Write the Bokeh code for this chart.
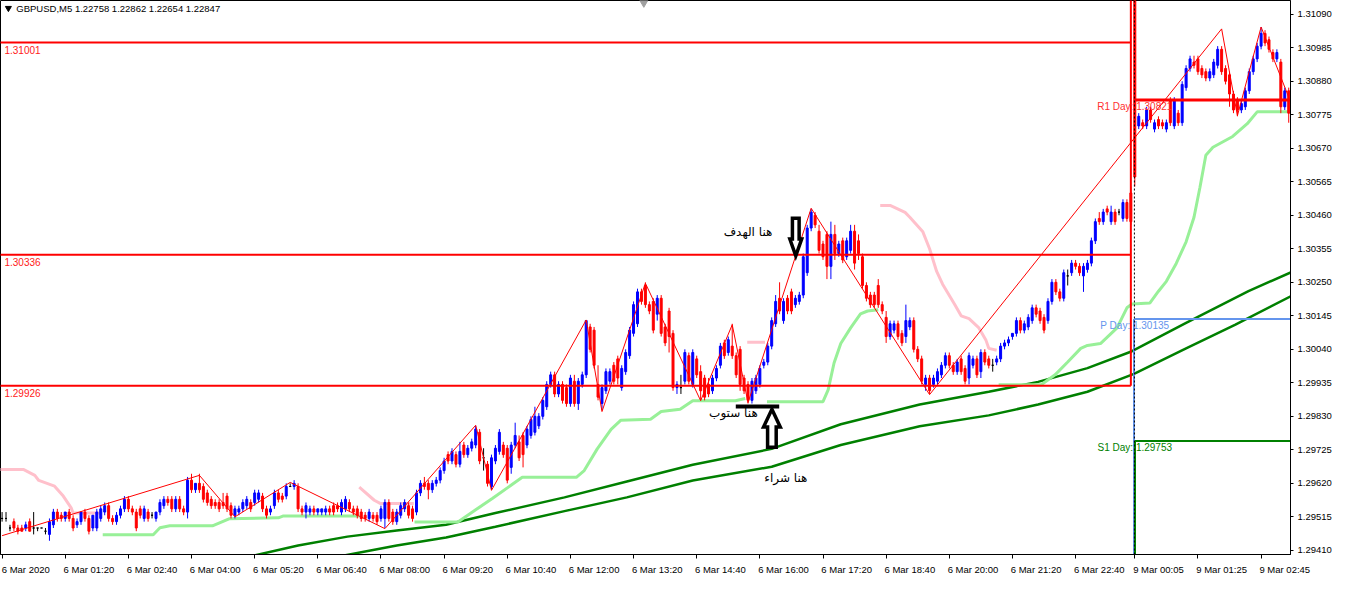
import numpy as np
from bokeh.plotting import figure
from bokeh.models import Range1d, FixedTicker, LinearAxis, PrintfTickFormatter, Span
from bokeh.core.properties import value
from bokeh.embed import file_html
from bokeh.resources import INLINE

# ---------------- data ----------------
chart_title = "GBPUSD,M5  1.22758 1.22862 1.22654 1.22847"

opens = [
 1.2951,1.2951,1.2948,1.2950,1.2948,1.2948,1.2948,1.2950,1.2948,1.2948,
 1.2948,1.2947,1.2946,1.2949,1.2953,1.2952,1.2951,1.2953,1.2951,1.2949,
 1.2950,1.2953,1.2951,1.2948,1.2948,1.2951,1.2953,1.2955,1.2951,1.2950,
 1.2952,1.2954,1.2957,1.2954,1.2953,1.2954,1.2951,1.2953,1.2952,1.2951,
 1.2953,1.2955,1.2957,1.2957,1.2954,1.2957,1.2954,1.2953,1.2963,1.2960,
 1.2962,1.2961,1.2959,1.2957,1.2956,1.2956,1.2956,1.2958,1.2955,1.2952,
 1.2953,1.2954,1.2955,1.2956,1.2956,1.2957,1.2958,1.2954,1.2953,1.2955,
 1.2959,1.2958,1.2958,1.2961,1.2961,1.2961,1.2954,1.2953,1.2953,1.2954,
 1.2953,1.2953,1.2953,1.2954,1.2955,1.2955,1.2953,1.2954,1.2956,1.2954,
 1.2954,1.2953,1.2952,1.2951,1.2952,1.2952,1.2951,1.2951,1.2956,1.2953,
 1.2950,1.2952,1.2954,1.2955,1.2954,1.2953,1.2959,1.2962,1.2962,1.2960,
 1.2962,1.2963,1.2966,1.2971,1.2969,1.2971,1.2968,1.2974,1.2971,1.2973,
 1.2974,1.2978,1.2970,1.2968,1.2961,1.2969,1.2972,1.2974,1.2973,1.2967,
 1.2974,1.2975,1.2977,1.2974,1.2977,1.2978,1.2980,1.2983,1.2986,1.2993,
 1.2996,1.2990,1.2993,1.2992,1.2987,1.2994,1.2987,1.2993,1.2996,1.3011,
 1.3010,1.2993,1.2987,1.2991,1.2994,1.2999,1.3001,1.2992,1.2997,1.3002,
 1.3009,1.3012,1.3022,1.3024,1.3018,1.3019,1.3015,1.3020,1.3011,1.3016,
 1.3009,1.2992,1.2992,1.2994,1.3002,1.2993,1.3001,1.2997,1.2995,1.2993,
 1.2991,1.2995,1.2999,1.3006,1.3003,1.3005,1.3002,1.3004,1.2995,1.2993,
 1.2988,1.2991,1.2993,1.2999,1.3000,1.3005,1.3012,1.3020,1.3013,1.3020,
 1.3022,1.3018,1.3019,1.3021,1.3028,1.3042,1.3046,1.3041,1.3037,1.3040,
 1.3030,1.3040,1.3034,1.3038,1.3033,1.3035,1.3041,1.3038,1.3033,1.3024,
 1.3021,1.3021,1.3024,1.3018,1.3014,1.3008,1.3010,1.3012,1.3009,1.3008,
 1.3011,1.3013,1.3004,1.3001,1.2993,1.2995,1.2993,1.2994,1.2996,1.2999,
 1.3002,1.2999,1.2997,1.3001,1.2998,1.2995,1.2999,1.3001,1.2997,1.3003,
 1.3001,1.2999,1.3000,1.3001,1.3005,1.3006,1.3008,1.3009,1.3013,1.3010,
 1.3011,1.3013,1.3017,1.3016,1.3014,1.3013,1.3019,1.3025,1.3022,1.3020,
 1.3027,1.3028,1.3031,1.3030,1.3027,1.3029,1.3031,1.3038,1.3045,1.3044,
 1.3048,1.3044,1.3047,1.3047,1.3045,1.3050,1.3053,1.3120,1.3074,1.3075,
 1.3074,1.3079,1.3073,1.3076,1.3075,1.3073,1.3082,1.3074,1.3078,1.3075,
 1.3086,1.3092,1.3094,1.3095,1.3092,1.3091,1.3089,1.3090,1.3093,1.3098,
 1.3092,1.3090,1.3084,1.3082,1.3079,1.3080,1.3085,1.3091,1.3095,1.3099,
 1.3103,1.3101,1.3097,1.3095,1.3094,1.3080,1.3085]

highs = [
 1.2953,1.2953,1.2949,1.2951,1.2949,1.2949,1.2950,1.2951,1.2953,1.2948,
 1.2948,1.2948,1.2951,1.2954,1.2954,1.2953,1.2953,1.2954,1.2952,1.2951,
 1.2953,1.2954,1.2952,1.2952,1.2954,1.2955,1.2956,1.2956,1.2952,1.2953,
 1.2955,1.2958,1.2958,1.2955,1.2954,1.2955,1.2955,1.2954,1.2953,1.2953,
 1.2957,1.2958,1.2958,1.2958,1.2958,1.2958,1.2955,1.2964,1.2965,1.2962,
 1.2965,1.2962,1.2960,1.2958,1.2957,1.2957,1.2959,1.2959,1.2956,1.2955,
 1.2955,1.2957,1.2958,1.2957,1.2960,1.2960,1.2959,1.2955,1.2955,1.2960,
 1.2960,1.2959,1.2962,1.2962,1.2963,1.2962,1.2955,1.2956,1.2955,1.2955,
 1.2954,1.2954,1.2955,1.2955,1.2956,1.2956,1.2957,1.2958,1.2957,1.2955,
 1.2955,1.2954,1.2953,1.2954,1.2953,1.2953,1.2955,1.2957,1.2957,1.2954,
 1.2954,1.2956,1.2957,1.2956,1.2955,1.2960,1.2963,1.2964,1.2963,1.2963,
 1.2964,1.2967,1.2970,1.2972,1.2973,1.2972,1.2975,1.2975,1.2974,1.2976,
 1.2980,1.2979,1.2973,1.2969,1.2971,1.2974,1.2979,1.2975,1.2974,1.2975,
 1.2981,1.2977,1.2978,1.2980,1.2983,1.2986,1.2984,1.2989,1.2994,1.2997,
 1.2997,1.2994,1.2994,1.2993,1.2996,1.2996,1.2995,1.2997,1.3013,1.3012,
 1.3011,1.2999,1.2993,1.2998,1.2998,1.3000,1.3002,1.2999,1.3004,1.3011,
 1.3019,1.3023,1.3023,1.3025,1.3019,1.3020,1.3021,1.3021,1.3012,1.3017,
 1.3010,1.2994,1.2996,1.3004,1.3003,1.3004,1.3002,1.2999,1.2996,1.2995,
 1.2996,1.2999,1.3006,1.3007,1.3008,1.3012,1.3003,1.3005,1.2996,1.2994,
 1.2995,1.2996,1.2999,1.3001,1.3006,1.3014,1.3021,1.3025,1.3020,1.3021,
 1.3023,1.3021,1.3022,1.3034,1.3043,1.3048,1.3047,1.3043,1.3038,1.3041,
 1.3044,1.3043,1.3038,1.3039,1.3039,1.3043,1.3043,1.3040,1.3034,1.3025,
 1.3022,1.3022,1.3026,1.3019,1.3016,1.3013,1.3013,1.3013,1.3010,1.3018,
 1.3014,1.3014,1.3005,1.3002,1.2996,1.2996,1.2996,1.2998,1.3000,1.3003,
 1.3003,1.3000,1.3001,1.3002,1.2999,1.3003,1.3002,1.3002,1.3004,1.3004,
 1.3002,1.3001,1.3002,1.3006,1.3007,1.3008,1.3009,1.3014,1.3014,1.3013,
 1.3015,1.3018,1.3018,1.3017,1.3015,1.3020,1.3026,1.3026,1.3023,1.3029,
 1.3029,1.3032,1.3032,1.3031,1.3031,1.3032,1.3039,1.3045,1.3047,1.3048,
 1.3049,1.3049,1.3048,1.3048,1.3051,1.3051,1.3055,1.3125,1.3078,1.3076,
 1.3080,1.3080,1.3076,1.3077,1.3076,1.3076,1.3083,1.3083,1.3079,1.3088,
 1.3093,1.3096,1.3096,1.3096,1.3093,1.3092,1.3092,1.3095,1.3099,1.3099,
 1.3093,1.3091,1.3085,1.3083,1.3082,1.3086,1.3092,1.3096,1.3100,1.3105,
 1.3104,1.3102,1.3098,1.3098,1.3095,1.3086,1.3086]

lows = [
 1.2950,1.2950,1.2947,1.2947,1.2946,1.2947,1.2947,1.2947,1.2946,1.2947,
 1.2948,1.2946,1.2944,1.2948,1.2950,1.2950,1.2950,1.2950,1.2947,1.2948,
 1.2949,1.2950,1.2946,1.2947,1.2947,1.2950,1.2952,1.2950,1.2949,1.2949,
 1.2951,1.2953,1.2953,1.2952,1.2947,1.2951,1.2950,1.2950,1.2951,1.2950,
 1.2952,1.2954,1.2955,1.2953,1.2953,1.2953,1.2952,1.2951,1.2959,1.2959,
 1.2959,1.2956,1.2955,1.2954,1.2954,1.2953,1.2954,1.2953,1.2951,1.2951,
 1.2952,1.2953,1.2954,1.2953,1.2955,1.2956,1.2953,1.2951,1.2952,1.2954,
 1.2956,1.2956,1.2957,1.2961,1.2960,1.2953,1.2952,1.2951,1.2952,1.2952,
 1.2952,1.2952,1.2952,1.2952,1.2952,1.2953,1.2952,1.2953,1.2953,1.2952,
 1.2951,1.2950,1.2950,1.2950,1.2950,1.2949,1.2950,1.2948,1.2950,1.2949,
 1.2949,1.2951,1.2953,1.2951,1.2950,1.2952,1.2958,1.2960,1.2957,1.2959,
 1.2961,1.2962,1.2965,1.2968,1.2968,1.2967,1.2967,1.2970,1.2970,1.2972,
 1.2973,1.2968,1.2966,1.2961,1.2960,1.2968,1.2971,1.2970,1.2962,1.2965,
 1.2973,1.2969,1.2967,1.2973,1.2976,1.2977,1.2979,1.2982,1.2985,1.2992,
 1.2989,1.2989,1.2987,1.2986,1.2986,1.2986,1.2985,1.2992,1.2995,1.3003,
 1.2998,1.2988,1.2985,1.2990,1.2993,1.2993,1.2993,1.2991,1.2996,1.3001,
 1.3008,1.3011,1.3018,1.3017,1.3015,1.3009,1.3013,1.3008,1.3005,1.3003,
 1.2991,1.2990,1.2990,1.2993,1.2993,1.2992,1.2995,1.2988,1.2988,1.2989,
 1.2990,1.2994,1.2998,1.3001,1.3002,1.3001,1.2995,1.2991,1.2990,1.2987,
 1.2987,1.2990,1.2992,1.2998,1.2999,1.3004,1.3011,1.3015,1.3012,1.3015,
 1.3015,1.3017,1.3018,1.3020,1.3027,1.3041,1.3042,1.3034,1.3032,1.3026,
 1.3026,1.3032,1.3033,1.3031,1.3032,1.3034,1.3029,1.3032,1.3023,1.3019,
 1.3017,1.3017,1.3017,1.3015,1.3006,1.3007,1.3009,1.3007,1.3005,1.3006,
 1.3010,1.3003,1.3000,1.2993,1.2991,1.2990,1.2992,1.2993,1.2995,1.2998,
 1.2998,1.2996,1.2996,1.2996,1.2993,1.2993,1.2998,1.2995,1.2995,1.2999,
 1.2998,1.2997,1.2999,1.3000,1.3004,1.3005,1.3007,1.3008,1.3009,1.3009,
 1.3010,1.3012,1.3014,1.3012,1.3009,1.3012,1.3018,1.3021,1.3019,1.3019,
 1.3024,1.3027,1.3029,1.3027,1.3022,1.3028,1.3030,1.3037,1.3043,1.3043,
 1.3046,1.3043,1.3043,1.3046,1.3044,1.3044,1.3043,1.3055,1.3073,1.3073,
 1.3073,1.3075,1.3072,1.3073,1.3073,1.3072,1.3074,1.3073,1.3074,1.3074,
 1.3085,1.3091,1.3092,1.3090,1.3089,1.3088,1.3088,1.3089,1.3092,1.3090,
 1.3087,1.3080,1.3078,1.3077,1.3078,1.3079,1.3084,1.3090,1.3094,1.3098,
 1.3099,1.3097,1.3094,1.3094,1.3078,1.3079,1.3075]

closes = [
 1.2951,1.2951,1.2948,1.2948,1.2947,1.2947,1.2949,1.2947,1.2948,1.2948,
 1.2948,1.2947,1.2950,1.2953,1.2951,1.2951,1.2953,1.2951,1.2948,1.2950,
 1.2953,1.2951,1.2947,1.2952,1.2953,1.2954,1.2955,1.2951,1.2950,1.2952,
 1.2954,1.2957,1.2954,1.2953,1.2948,1.2952,1.2954,1.2951,1.2952,1.2953,
 1.2956,1.2957,1.2956,1.2954,1.2957,1.2954,1.2953,1.2963,1.2960,1.2962,
 1.2960,1.2957,1.2956,1.2955,1.2955,1.2954,1.2955,1.2954,1.2952,1.2954,
 1.2954,1.2956,1.2957,1.2954,1.2959,1.2959,1.2954,1.2952,1.2954,1.2959,
 1.2957,1.2957,1.2961,1.2961,1.2962,1.2954,1.2953,1.2955,1.2954,1.2953,
 1.2954,1.2954,1.2954,1.2953,1.2953,1.2954,1.2956,1.2957,1.2954,1.2953,
 1.2952,1.2951,1.2951,1.2953,1.2951,1.2950,1.2954,1.2956,1.2951,1.2950,
 1.2953,1.2955,1.2956,1.2952,1.2951,1.2959,1.2962,1.2961,1.2960,1.2962,
 1.2963,1.2966,1.2969,1.2969,1.2972,1.2968,1.2972,1.2971,1.2973,1.2975,
 1.2979,1.2969,1.2970,1.2962,1.2970,1.2973,1.2978,1.2971,1.2963,1.2974,
 1.2977,1.2970,1.2971,1.2979,1.2982,1.2983,1.2983,1.2988,1.2993,1.2996,
 1.2990,1.2993,1.2988,1.2987,1.2995,1.2987,1.2994,1.2996,1.3013,1.3004,
 1.2999,1.2989,1.2992,1.2997,1.2997,1.2994,1.2995,1.2998,1.3003,1.3010,
 1.3018,1.3022,1.3019,1.3018,1.3016,1.3010,1.3020,1.3009,1.3006,1.3008,
 1.2992,1.2993,1.2992,1.3003,1.2994,1.3003,1.2996,1.2991,1.2989,1.2990,
 1.2995,1.2998,1.3005,1.3002,1.3007,1.3002,1.2996,1.2993,1.2991,1.2988,
 1.2994,1.2995,1.2998,1.3000,1.3005,1.3013,1.3019,1.3016,1.3019,1.3016,
 1.3016,1.3020,1.3021,1.3033,1.3042,1.3047,1.3043,1.3035,1.3033,1.3030,
 1.3040,1.3034,1.3037,1.3032,1.3038,1.3041,1.3031,1.3034,1.3024,1.3020,
 1.3018,1.3018,1.3018,1.3016,1.3008,1.3012,1.3012,1.3008,1.3006,1.3013,
 1.3013,1.3004,1.3001,1.2994,1.2995,1.2991,1.2995,1.2997,1.2999,1.3002,
 1.2999,1.2997,1.3000,1.2997,1.2994,1.3002,1.3001,1.2996,1.3003,1.3000,
 1.2999,1.2999,1.3001,1.3005,1.3006,1.3007,1.3009,1.3013,1.3010,1.3012,
 1.3014,1.3017,1.3015,1.3013,1.3010,1.3019,1.3025,1.3022,1.3020,1.3028,
 1.3027,1.3031,1.3030,1.3028,1.3030,1.3031,1.3038,1.3044,1.3044,1.3047,
 1.3047,1.3047,1.3044,1.3047,1.3050,1.3045,1.3044,1.3058,1.3077,1.3074,
 1.3079,1.3076,1.3075,1.3074,1.3074,1.3075,1.3075,1.3082,1.3075,1.3087,
 1.3092,1.3095,1.3093,1.3091,1.3090,1.3089,1.3091,1.3094,1.3098,1.3091,
 1.3088,1.3084,1.3079,1.3079,1.3081,1.3085,1.3091,1.3095,1.3099,1.3103,
 1.3100,1.3098,1.3095,1.3097,1.3080,1.3085,1.3078]

# time axis: bar index of each labelled time
tick_bars = [0, 16, 32, 48, 64, 80, 96, 112, 128, 144, 160, 176, 192, 208,
             224, 240, 256, 272, 287, 303, 319]
tick_labels = ["6 Mar 2020", "6 Mar 01:20", "6 Mar 02:40", "6 Mar 04:00",
               "6 Mar 05:20", "6 Mar 06:40", "6 Mar 08:00", "6 Mar 09:20",
               "6 Mar 10:40", "6 Mar 12:00", "6 Mar 13:20", "6 Mar 14:40",
               "6 Mar 16:00", "6 Mar 17:20", "6 Mar 18:40", "6 Mar 20:00",
               "6 Mar 21:20", "6 Mar 22:40", "9 Mar 00:05", "9 Mar 01:25",
               "9 Mar 02:45"]
price_ticks = [1.31090, 1.30985, 1.30880, 1.30775, 1.30670, 1.30565, 1.30460,
               1.30355, 1.30250, 1.30145, 1.30040, 1.29935, 1.29830, 1.29725,
               1.29620, 1.29515, 1.29410]

week_start_bar = 287
levels = [1.31001, 1.30336, 1.29926]
level_texts = ["1.31001", "1.30336", "1.29926"]
pivot_values = [1.30821, 1.30135, 1.29753]
pivot_texts = ["R1 Day: 1.30821", "P Day: 1.30135", "S1 Day: 1.29753"]

ma_fast_x = [62.5, 75, 87.5, 100, 112.5, 125, 142.5, 158.3, 175, 195, 212.5,
             232.5, 250, 262.5, 275, 286.3, 300, 315.8, 326.5]
ma_fast_y = [1.29390, 1.29425, 1.29453, 1.29472, 1.29490, 1.29527, 1.29576,
             1.29626, 1.29678, 1.29728, 1.29805, 1.29867, 1.29907, 1.29938,
             1.29981, 1.30034, 1.30123, 1.30222, 1.30281]
ma_slow_x = [85, 100, 112.5, 125, 142.5, 158.3, 175, 195, 212.5, 232.5, 250,
             262.5, 275, 286.8, 300, 312.5, 326.5]
ma_slow_y = [1.29390, 1.29425, 1.29450, 1.29484, 1.29533, 1.29576, 1.29629,
             1.29672, 1.29740, 1.29799, 1.29833, 1.29867, 1.29907, 1.29963,
             1.30043, 1.30117, 1.30206]

nan = float("nan")
stop_up_x = [25.5, 38.3, 40.0, 42.5, 53.3, 57.5, 70.0, 71.3, 90.5, nan,
             104.5, 115.5, 120.0, 124.3, 131.8, 145.5, 147.5, 150.8, 154.3,
             156.8, 164.3, 167.0, 171.8, 175.0, 185.8, 188.3, nan,
             193.8, 208.0, 209.3, 210.8, 212.5, 215.0, 217.5, 219.3, 222.0, nan,
             252.5, 263.3, 266.8, 270.0, 273.3, 275.0, 278.3, 282.5, 285.0,
             286.3, 290.8, 293.0, 295.0, 297.5, 300.0, 302.0, 303.5, 305.0,
             306.8, 311.8, 315.5, 318.0, 326.5]
stop_up_y = [1.29459, 1.29459, 1.29481, 1.29487, 1.29487, 1.29509, 1.29512,
             1.29518, 1.29518, nan,
             1.29499, 1.29499, 1.29537, 1.29573, 1.29639, 1.29639, 1.29660,
             1.29728, 1.29789, 1.29818, 1.29821, 1.29845, 1.29852, 1.29879,
             1.29879, 1.29886, nan,
             1.29876, 1.29876, 1.29913, 1.29997, 1.30058, 1.30107, 1.30151,
             1.30160, 1.30164, nan,
             1.29929, 1.29929, 1.29960, 1.30000, 1.30043, 1.30052, 1.30058,
             1.30107, 1.30170, 1.30182, 1.30185, 1.30222, 1.30253, 1.30309,
             1.30377, 1.30454, 1.30547, 1.30648, 1.30673, 1.30707, 1.30747,
             1.30784, 1.30784]
stop_dn_x = [-1.0, 5.5, 8.3, 9.3, 13.3, 15.5, 17.5, 18.0, 25.0, nan,
             90.5, 94.3, 95.8, 104.3, nan,
             188.8, 193.3, nan,
             222.5, 225.0, 228.8, 230.0, 233.3, 235.0, 236.8, 238.3, 241.3,
             243.0, 245.0, 247.5, 249.3, 250.0, 252.0]
stop_dn_y = [1.29663, 1.29663, 1.29645, 1.29629, 1.29611, 1.29580, 1.29543,
             1.29527, 1.29527, nan,
             1.29608, 1.29567, 1.29557, 1.29557, nan,
             1.30062, 1.30062, nan,
             1.30491, 1.30491, 1.30469, 1.30454, 1.30408, 1.30355, 1.30284,
             1.30244, 1.30182, 1.30145, 1.30136, 1.30107, 1.30068, 1.30043,
             1.30037]

zigzag_x = [0, 50, 59, 73, 97, 120, 124, 148, 152, 163, 177, 185, 189, 205,
            235, 309, 313, 319, 326]
zigzag_y = [1.29456, 1.29645, 1.29515, 1.29623, 1.29478, 1.29802, 1.29598,
            1.30132, 1.29845, 1.30247, 1.29879, 1.30117, 1.29873, 1.30482,
            1.29898, 1.31044, 1.30772, 1.31050, 1.30830]

note_texts = ["هنا الهدف", "هنا ستوب", "هنا شراء"]
note_x = [189.0, 185.3, 198.6]
note_y = [1.30408, 1.29840, 1.29636]

# ---------------- figure ----------------
Y0, Y1 = 1.29397, 1.31133
X0, X1 = -0.4, 326.45
FONT = "Liberation Sans"

p = figure(width=1334, height=577, output_backend="svg", toolbar_location=None,
           x_range=Range1d(X0, X1), y_range=Range1d(Y0, Y1),
           x_axis_location=None, y_axis_location="right",
           min_border_left=0, min_border_right=0, min_border_top=0,
           min_border_bottom=0, background_fill_color="white",
           border_fill_color="white", outline_line_color="black")
p.grid.visible = False

# y axis (right)
ya = p.yaxis[0]
ya.ticker = FixedTicker(ticks=price_ticks)
ya.formatter = PrintfTickFormatter(format="%.5f")
ya.major_tick_out = 3
ya.major_tick_in = 0
ya.minor_tick_out = 0
ya.minor_tick_in = 0
ya.major_label_standoff = 4
ya.major_label_text_font = FONT
ya.major_label_text_font_size = "9.5px"
ya.major_label_text_color = "black"
ya.axis_line_color = "black"

# x axis: tick marks (minor ticks) at the bar, labels start right of the tick
label_shift = 6
label_pos = [b + label_shift for b in tick_bars]
xl = LinearAxis(ticker=FixedTicker(ticks=label_pos, minor_ticks=tick_bars),
                major_label_overrides={pos: t for pos, t in zip(label_pos, tick_labels)},
                major_tick_out=0, major_tick_in=0,
                minor_tick_out=4, minor_tick_in=0, minor_tick_line_color="black",
                axis_line_color="black", major_label_standoff=5,
                major_label_text_font=FONT, major_label_text_font_size="9.5px",
                major_label_text_color="black")
p.add_layout(xl, "below")

# indicator lines (behind candles)
p.line(ma_fast_x, ma_fast_y, line_color="#008000", line_width=2.5)
p.line(ma_slow_x, ma_slow_y, line_color="#008000", line_width=2.5)
p.line(np.array(stop_up_x), np.array(stop_up_y), line_color="#98f098", line_width=3)
p.line(np.array(stop_dn_x), np.array(stop_dn_y), line_color="#ffc0cb", line_width=3)

# candles
bars = list(range(len(opens)))
colors = ["#0000ff" if c > o else ("#ff0000" if c < o else "black")
          for o, c in zip(opens, closes)]
tops = [max(o, c) for o, c in zip(opens, closes)]
bots = [min(o, c) for o, c in zip(opens, closes)]
p.segment(x0=bars, y0=lows, x1=bars, y1=highs, line_color=colors, line_width=1)
p.vbar(x=bars, width=0.5, top=tops, bottom=bots, fill_color=colors,
       line_color=colors, line_width=1)

# level boxes
edge = week_start_bar - 1
for lv in levels:
    p.segment(x0=X0 - 1, y0=lv, x1=edge, y1=lv, line_color="#ff0000", line_width=2)
p.segment(x0=edge, y0=Y1 + 0.001, x1=edge, y1=levels[-1], line_color="#ff0000", line_width=2)
p.text(x=[0.6] * 3, y=[lv - 0.000225 for lv in levels], text=level_texts,
       text_font=value(FONT), text_font_size="10px", text_color="#ff2020",
       text_align="left", text_baseline="middle")

# day pivot lines
sep = week_start_bar - 0.1
p.segment(x0=sep, y0=pivot_values[0], x1=X1 + 1, y1=pivot_values[0], line_color="#ff0000", line_width=3)
p.segment(x0=sep, y0=pivot_values[1], x1=X1 + 1, y1=pivot_values[1], line_color="#6495ed", line_width=2)
p.segment(x0=sep - 0.1, y0=pivot_values[1], x1=sep - 0.1, y1=Y0 - 0.001, line_color="#6495ed", line_width=2)
p.segment(x0=sep + 0.15, y0=pivot_values[2], x1=X1 + 1, y1=pivot_values[2], line_color="#008000", line_width=2)
p.segment(x0=sep + 0.15, y0=pivot_values[2], x1=sep + 0.15, y1=Y0 - 0.001, line_color="#008000", line_width=2)
p.text(x=[week_start_bar] * 3, y=[v - 0.000215 for v in pivot_values], text=pivot_texts,
       text_font=value(FONT), text_font_size="10px",
       text_color=["#ff3030", "#6495ed", "#008000"],
       text_align="center", text_baseline="middle")

# day separator
p.add_layout(Span(location=sep, dimension="height", line_color="black",
                  line_dash="2 2", line_width=1))

# zigzag
p.line(zigzag_x, zigzag_y, line_color="#ff0000", line_width=1)

# annotations: arrows, bar, texts
def arrow_poly(tip_x, tip_y, direction, length, head_len, head_half, shaft_half):
    base = tip_y - direction * head_len
    end = tip_y - direction * length
    xs = [tip_x, tip_x + head_half, tip_x + shaft_half, tip_x + shaft_half,
          tip_x - shaft_half, tip_x - shaft_half, tip_x - head_half]
    ys = [tip_y, base, base, end, end, base, base]
    return xs, ys

dx, dy = arrow_poly(201.1, 1.30333, -1, 0.00118, 0.000525, 1.5, 0.85)
p.patch(dx, dy, fill_color="white", line_color="black", line_width=3.5, line_join="miter")
ux, uy = arrow_poly(195.05, 1.29852, 1, 0.00119, 0.000555, 2.12, 1.09)
p.patch(ux, uy, fill_color="white", line_color="black", line_width=3.5, line_join="miter")
p.segment(x0=185.9, y0=1.29861, x1=196.9, y1=1.29861, line_color="black", line_width=4)

p.text(x=note_x, y=note_y, text=note_texts, text_font=value("DejaVu Sans"),
       text_font_size="12px", text_color="black", text_align="center",
       text_baseline="middle")

# header
p.scatter(x=[1.6], y=[1.31109], marker="inverted_triangle", size=6,
          fill_color="black", line_color="black")
p.text(x=[3.6], y=[1.31109], text=[chart_title], text_font=value(FONT),
       text_font_size="9.5px", text_color="black", text_align="left",
       text_baseline="middle")
p.scatter(x=[162.6], y=[1.31126], marker="inverted_triangle", size=8,
          fill_color="#a0a0a0", line_color="#a0a0a0")

open("out.html", "w").write(file_html(p, INLINE))
